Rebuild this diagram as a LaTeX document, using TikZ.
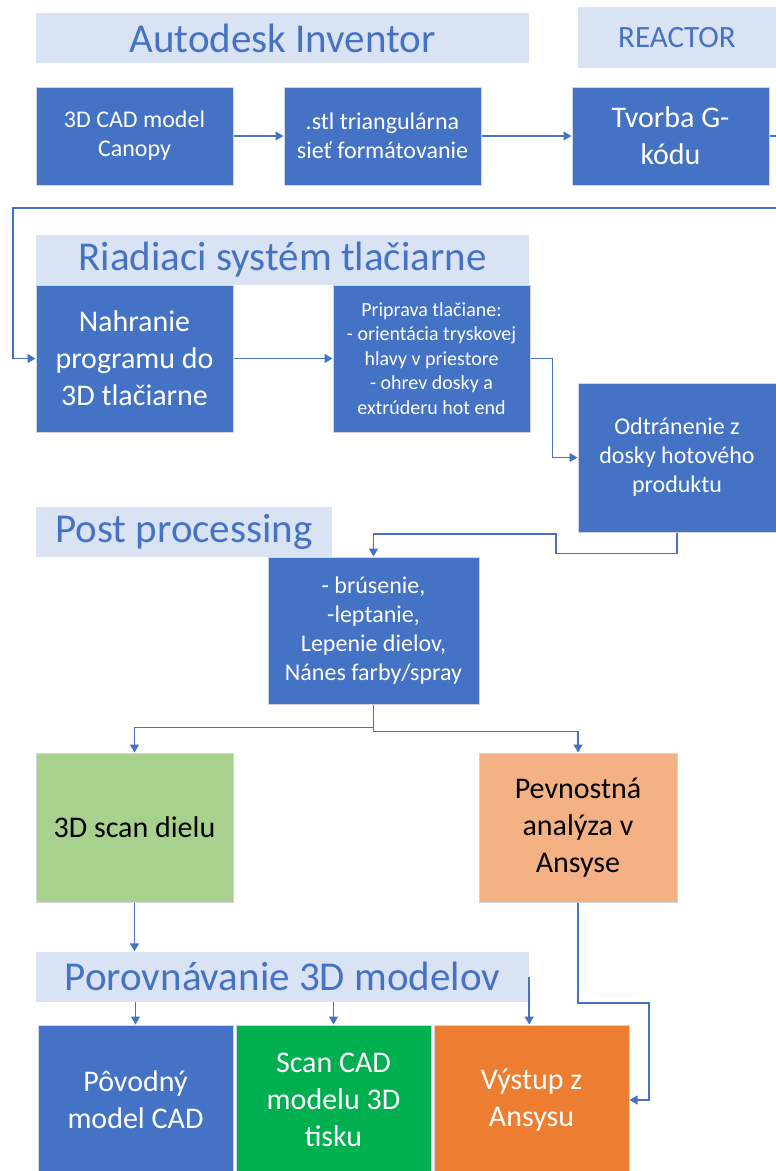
\documentclass[tikz,border=0pt]{standalone}
\usepackage{fontspec}
\setmainfont{Carlito}
\usepackage{xcolor}
\definecolor{primary}{RGB}{68, 114, 196}
\definecolor{banner}{RGB}{218, 227, 243}
\definecolor{edge}{RGB}{208, 212, 220}
\definecolor{lightgreen}{RGB}{169, 209, 142}
\definecolor{lightorange}{RGB}{244, 177, 131}
\definecolor{scangreen}{RGB}{0, 176, 80}
\definecolor{ansysorange}{RGB}{237, 125, 49}
\usepackage{tikz}
\usetikzlibrary{arrows.meta, positioning}
\newcommand{\notefont}{\fontsize{20}{24.5}\selectfont}
\newcommand{\boxfont}{\fontsize{24}{29}\selectfont}
\newcommand{\bigboxfont}{\fontsize{30}{37}\selectfont}
\tikzstyle{heading} = [rectangle, fill=banner, text=primary, inner sep=0pt, minimum height=50pt, font=\fontsize{41}{49}\selectfont]
\tikzstyle{block} = [rectangle, draw=edge, line width=1pt, fill=primary, text=white, align=center, inner sep=0pt, minimum width=197pt]
\tikzstyle{arrow} = [draw=primary, line width=1.5pt, -{Triangle[length=8pt, width=9pt]}]

\begin{document}
\begin{tikzpicture}[x=1pt, y=-1pt]
    \useasboundingbox (0,0) rectangle (776,1171);
    \clip (0,0) rectangle (776,1171);

    % modelling and slicing
    \node[heading, minimum width=493pt] (inventor) at (282.5,38) {Autodesk Inventor};
    \node[heading, minimum width=198pt, minimum height=61pt, font=\fontsize{31}{37}\selectfont] (reactor) at (677,37.5) {REACTOR};
    \node[block, minimum height=98pt, font=\boxfont] (cad) at (134.5,136) {3D CAD model\\Canopy};
    \node[block, minimum height=98pt, font=\boxfont, right=50pt of cad] (stl) {.stl triangulárna\\sieť formátovanie};
    \node[block, minimum height=98pt, font=\bigboxfont, right=90pt of stl] (gcode) {Tvorba G-\\kódu};

    % printer
    \node[heading, minimum width=493pt] (control) at (282.5,259.5) {Riadiaci systém tlačiarne};
    \node[block, minimum height=147pt, font=\bigboxfont] (upload) at (134.5,358.5) {Nahranie\\programu do\\3D tlačiarne};
    \node[block, minimum height=147pt, font=\notefont, right=99pt of upload] (prep) {Priprava tlačiane:\\- orientácia tryskovej\\hlavy v priestore\\- ohrev dosky a\\extrúderu hot end};
    \node[block, minimum width=198pt, minimum height=149pt, font=\boxfont] (removal) at (677,457.5) {Odtránenie z\\dosky hotového\\produktu};

    % finishing
    \node[heading, minimum width=296pt] (post) at (184,531.5) {Post processing};
    \node[block, minimum width=211pt, minimum height=147pt, font=\boxfont] (finish) at (373.5,630.5) {- brúsenie,\\-leptanie,\\Lepenie dielov,\\Nánes farby/spray};
    \node[block, fill=lightgreen, text=black, minimum height=149pt, font=\bigboxfont] (scan) at (134.5,827.5) {3D scan dielu};
    \node[block, fill=lightorange, text=black, minimum width=198pt, minimum height=149pt, font=\bigboxfont] (strength) at (578,827.5) {Pevnostná\\analýza v\\Ansyse};

    % comparison
    \node[heading, minimum width=493pt] (compare) at (282.5,976.5) {Porovnávanie 3D modelov};
    \node[block, minimum width=195pt, minimum height=150pt, font=\bigboxfont] (original) at (135.5,1100) {Pôvodný\\model CAD};
    \node[block, fill=scangreen, minimum width=195pt, minimum height=150pt, font=\bigboxfont, right=2pt of original] (scancad) {Scan CAD\\modelu 3D\\tisku};
    \node[block, fill=ansysorange, minimum width=195pt, minimum height=150pt, font=\bigboxfont, right=2pt of scancad] (output) {Výstup z\\Ansysu};

    \coordinate (wrap) at (13,208);

    \draw[arrow] (cad) -- (stl);
    \draw[arrow] (stl) -- (gcode);
    \draw[arrow] (gcode.east) -- ++(30,0) |- (wrap) |- (upload.west);
    \draw[arrow] (upload) -- (prep);
    \draw[arrow] (prep.east) -- ++(22,0) |- (removal.west);
    \draw[arrow] (removal.south) -- ++(0,21) -| (556,534) -| (finish.north);
    \draw[arrow] (finish.south) -- ++(0,23) -| (scan.north);
    \draw[arrow] (finish.south) -- ++(0,27) -| (strength.north);
    \draw[arrow] (scan.south) -- (scan.south |- compare.north);
    \draw[arrow] (compare.south -| original.north) -- (original.north);
    \draw[arrow] (compare.south -| scancad.north) -- (scancad.north);
    \draw[arrow] (compare.east) -- (compare.east |- output.north);
    \draw[arrow] (strength.south) |- (649,1003) |- (output.east);
\end{tikzpicture}
\end{document}
